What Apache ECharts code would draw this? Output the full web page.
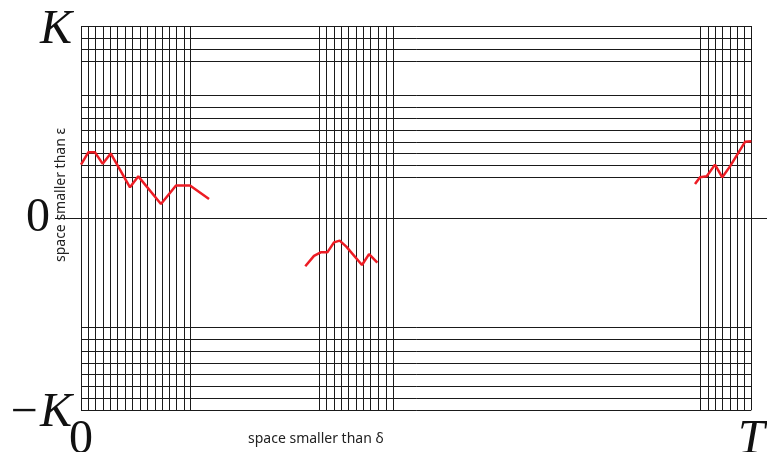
<!DOCTYPE html>
<html>
<head>
<meta charset="utf-8">
<script src="https://cdn.jsdelivr.net/npm/echarts@6/dist/echarts.min.js"></script>
<style>
html,body{margin:0;padding:0;background:#fff;}
#chart{width:767px;height:452px;}
</style>
</head>
<body>
<div id="chart"></div>
<script>
// ---- data (x: 0..T mapped to 0..100, y: -K..K mapped to -100..100) ----
var verticalLinesLeft = [0, 1.09, 2.19, 3.29, 4.33, 5.47, 6.56, 7.65, 8.80, 9.89, 11.04, 12.13, 13.17, 14.28, 15.41, 16.37];
var verticalLinesMiddle = [35.61, 36.65, 37.74, 38.83, 39.88, 41.03, 42.12, 43.22, 44.35, 45.50, 46.59];
var verticalLinesRight = [92.45, 93.54, 94.63, 95.73, 96.82, 97.91, 99.01, 100];

var horizontalLinesTop = [100, 93.6, 87.8, 81.7, 64.0, 57.9, 52.2, 45.7, 39.7, 33.6, 27.5, 21.2];
var horizontalLinesBottom = [-56.9, -63.2, -69.3, -75.4, -81.4, -87.5, -93.9, -100];

var pathLeft = [[0, 27.8], [1.09, 34.2], [2.09, 34.2], [3.24, 28.2], [4.43, 33.6], [7.31, 16.0], [8.55, 21.7], [11.93, 7.3], [14.17, 16.9], [16.26, 16.9], [19.10, 9.9]];
var pathMiddle = [[33.46, -25.1], [34.76, -19.7], [35.76, -17.9], [36.75, -17.9], [37.74, -12.7], [38.59, -11.8], [39.58, -14.9], [41.92, -24.5], [42.97, -18.8], [44.21, -23.3]];
var pathRight = [[91.60, 17.7], [92.35, 21.2], [93.35, 21.7], [94.58, 27.8], [95.67, 21.2], [96.82, 26.9], [98.06, 33.9], [99.06, 39.7], [100, 40.0]];

var xTickValues = [0, 100];
var xTickLabels = ['{up|0}', '{it|T}'];
var yTickValues = [-100, 0, 100];
var yTickLabels = ['{itb|\u2212K}', '{up0|0}', '{itk|K}'];

var xAxisName = 'space smaller than \u03b4';
var yAxisName = 'space smaller than \u03b5';

// ---- build ----
var hData = horizontalLinesTop.concat(horizontalLinesBottom).map(function (y) {
  return [{ coord: [0, y] }, { coord: [100, y] }];
});
var vData = verticalLinesLeft.concat(verticalLinesMiddle, verticalLinesRight).map(function (x) {
  return { xAxis: x };
});
var zeroLine = [{ yAxis: 0 }];

var serifIt = { fontFamily: 'Liberation Serif', fontStyle: 'italic', fontSize: 48, color: '#111' };
var serifUp = { fontFamily: 'Liberation Serif', fontStyle: 'normal', fontSize: 48, color: '#111' };

function redLine(data) {
  return {
    type: 'line', data: data, z: 5, symbol: 'none', silent: true,
    lineStyle: { color: '#ed1c24', width: 2.5 }, clip: false
  };
}

var chart = echarts.init(document.getElementById('chart'), null, { renderer: 'canvas' });
chart.setOption({
  animation: false,
  backgroundColor: '#fff',
  title: {
    text: xAxisName, left: 248, top: 432, padding: 0,
    textStyle: { fontFamily: 'Noto Sans', fontSize: 14, fontWeight: 'normal', color: '#222' }
  },
  grid: { left: 55, right: 0, top: 26, bottom: 42, containLabel: false, outerBoundsMode: 'none' },
  xAxis: {
    type: 'value', min: -3.879, max: 102.34,
    axisLine: { show: false }, axisTick: { show: false }, splitLine: { show: false },
    axisLabel: {
      customValues: xTickValues, margin: 6, hideOverlap: false,
      formatter: function (v) { return xTickLabels[xTickValues.indexOf(v)] || ''; },
      rich: { up: serifUp, it: serifIt }
    }
  },
  yAxis: {
    type: 'value', min: -100, max: 100,
    axisLine: { show: false }, axisTick: { show: false }, splitLine: { show: false },
    name: yAxisName, nameLocation: 'middle', nameRotate: 90, nameGap: -13, nameMoveOverlap: false,
    nameTextStyle: { fontFamily: 'Noto Sans', fontSize: 14, color: '#222', padding: [0, 0, 0, 46] },
    axisLabel: {
      customValues: yTickValues, margin: -17, align: 'right', hideOverlap: false,
      formatter: function (v) { return yTickLabels[yTickValues.indexOf(v)] || ''; },
      rich: {
        itk: Object.assign({ padding: [9, 0, 0, 0] }, serifIt),
        itb: Object.assign({ padding: [6, 0, 0, 0] }, serifIt),
        up0: Object.assign({ padding: [0, 22, 0, 0] }, serifUp)
      }
    }
  },
  series: [
    {
      type: 'line', data: [], z: 1, silent: true, clip: false,
      markLine: {
        silent: true, symbol: 'none', animation: false,
        label: { show: false }, emphasis: { disabled: true },
        lineStyle: { color: '#1a1a1a', width: 1, type: 'solid' },
        data: hData.concat(vData, zeroLine)
      }
    },
    redLine(pathLeft),
    redLine(pathMiddle),
    redLine(pathRight)
  ]
});
</script>
</body>
</html>
